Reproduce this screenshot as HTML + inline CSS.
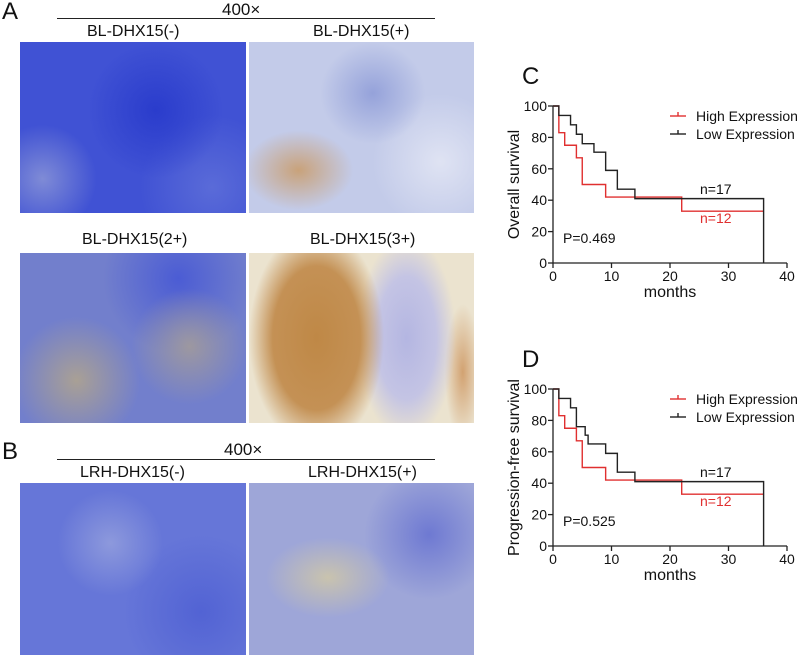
<!DOCTYPE html>
<html><head><meta charset="utf-8">
<style>
body{margin:0;width:797px;height:655px;background:#fff;overflow:hidden;position:relative;font-family:"Liberation Sans",Arial,sans-serif;}
.t{position:absolute;color:#111;white-space:nowrap;}
.img{position:absolute;overflow:hidden;}
.line{position:absolute;height:1px;background:#222;}
</style></head><body>
<div class="t" style="left:2px;top:-2px;font-size:24px;">A</div>
<div class="t" style="left:222px;top:0px;font-size:17px;">400×</div>
<div class="line" style="left:57px;top:18px;width:378px;"></div>
<div class="t" style="left:87px;top:23px;font-size:16px;">BL-DHX15(-)</div>
<div class="t" style="left:313px;top:23px;font-size:16px;">BL-DHX15(+)</div>
<div class="img" style="left:20px;top:42px;width:226px;height:171px;background:radial-gradient(circle at 10% 80%,#7f8bd6 0,transparent 22%),radial-gradient(circle at 60% 40%,#2a3ccc 0,transparent 40%),radial-gradient(circle at 85% 85%,#5a6bd8 0,transparent 30%),#4052d4;"></div>
<div class="img" style="left:249px;top:42px;width:225px;height:171px;background:radial-gradient(ellipse at 22% 75%,#c9a27a 0,transparent 22%),radial-gradient(ellipse at 55% 30%,#95a2da 0,transparent 30%),radial-gradient(circle at 85% 70%,#dfe3f3 0,transparent 30%),#c3cbe9;"></div>
<div class="t" style="left:82px;top:231px;font-size:16px;">BL-DHX15(2+)</div>
<div class="t" style="left:310px;top:231px;font-size:16px;">BL-DHX15(3+)</div>
<div class="img" style="left:20px;top:253px;width:226px;height:170px;background:radial-gradient(circle at 25% 75%,#a9a095 0,transparent 30%),radial-gradient(circle at 75% 55%,#9d98a0 0,transparent 30%),radial-gradient(circle at 70% 15%,#4b5cd4 0,transparent 35%),#727fcc;"></div>
<div class="img" style="left:249px;top:253px;width:225px;height:170px;background:radial-gradient(ellipse 30% 65% at 30% 50%,#bf8846 0,#c49155 65%,transparent 100%),radial-gradient(ellipse 22% 60% at 70% 50%,#b4b6e2 0,#c4c4e4 60%,transparent 100%),radial-gradient(ellipse 8% 40% at 95% 70%,#d2a271 0,transparent 100%),#ebe3cf;"></div>
<div class="t" style="left:2px;top:438px;font-size:24px;">B</div>
<div class="t" style="left:224px;top:440px;font-size:17px;">400×</div>
<div class="line" style="left:57px;top:459px;width:378px;"></div>
<div class="t" style="left:80px;top:464px;font-size:16px;">LRH-DHX15(-)</div>
<div class="t" style="left:308px;top:464px;font-size:16px;">LRH-DHX15(+)</div>
<div class="img" style="left:20px;top:483px;width:226px;height:172px;background:radial-gradient(circle at 40% 35%,#8d99dc 0,transparent 30%),radial-gradient(circle at 80% 75%,#5263d4 0,transparent 35%),#6676d8;"></div>
<div class="img" style="left:249px;top:483px;width:225px;height:172px;background:radial-gradient(ellipse at 35% 55%,#c9c3ae 0,transparent 30%),radial-gradient(circle at 80% 30%,#6e79d2 0,transparent 30%),#9ea6d8;"></div>

<svg id="charts" width="797" height="655" style="position:absolute;left:0;top:0"></svg>
<script>
const months = [0,10,20,30,40];
const yTicks = [0,20,40,60,80,100];
const highTimes = [0,1,2,4,5,9,22,36];
const highOS = [100,83,75,67,50,42,33,33];
const lowTimes = [0,1,3,4,5,7,9,11,14,36,36];
const lowOS = [100,94,88,82,76,70.6,59,47,41,41,0];
const highPFS = [100,83,75,67,50,42,33,33];
const lowTimesPFS = [0,1,3,4,5.5,6,9,11,14,36,36];
const lowPFS = [100,94,88,76,70.6,65,59,47,41,41,0];
const NS='http://www.w3.org/2000/svg';
const svg=document.getElementById('charts');
function mk(tag,attrs,parent){const e=document.createElementNS(NS,tag);for(const k in attrs)e.setAttribute(k,attrs[k]);(parent||svg).appendChild(e);return e;}
function txt(s,x,y,size,fill,anchor,parent){const e=mk('text',{x:x,y:y,'font-size':size,fill:fill,'text-anchor':anchor||'start','font-family':'Liberation Sans, Arial, sans-serif'},parent);e.textContent=s;return e;}
function chart(name,top,ytitle,hT,hV,lT,lV,pval,letter){
  const g=mk('g',{});
  
  
  const x0=553,x1=787,y0=top+157,y1=top;
  const X=v=>x0+(x1-x0)*v/40, Y=v=>y0-(y0-y1)*v/100;
  const L=txt(letter,522,top-22,24,'#111','start',g);
  
  
  mk('line',{x1:x0,y1:y0,x2:x0,y2:y1,stroke:'#222','stroke-width':1.3},g);
  mk('line',{x1:x0,y1:y0,x2:x1,y2:y0,stroke:'#222','stroke-width':1.3},g);
  yTicks.forEach(v=>{mk('line',{x1:x0-5,y1:Y(v),x2:x0,y2:Y(v),stroke:'#222','stroke-width':1.3},g);
    const t=txt(String(v),x0-6,Y(v)+5,14,'#111','end',g);
    
    });
  months.forEach(v=>{mk('line',{x1:X(v),y1:y0,x2:X(v),y2:y0+5,stroke:'#222','stroke-width':1.3},g);
    const t=txt(String(v),X(v),y0+18,14,'#111','middle',g);
    
    });
  const xt=txt('months',(x0+x1)/2,y0+34,16,'#111','middle',g);
  
  
  const yt=txt(ytitle,0,0,16,'#111','middle',g);
  yt.setAttribute('transform','translate(519,'+((y0+y1)/2)+') rotate(-90)');
  
  
  function step(T,V,col,nm){let d='M'+X(T[0])+','+Y(V[0]);
    for(let i=1;i<T.length;i++){d+=' H'+X(T[i])+' V'+Y(V[i]);}
    const p=mk('path',{d:d,fill:'none',stroke:col,'stroke-width':1.4},g);
    
    }
  step(hT,hV,'#e03030','high-expression-line');
  step(lT,lV,'#222','low-expression-line');
  [['High Expression','#e03030',top+10],['Low Expression','#222',top+28]].forEach(([s,c,y])=>{
    const lg=mk('g',{},g);
    
    
    mk('line',{x1:670,y1:y,x2:686,y2:y,stroke:c,'stroke-width':1.4},lg);
    mk('line',{x1:678,y1:y,x2:678,y2:y-4,stroke:c,'stroke-width':1.4},lg);
    txt(s,696,y+5,14,'#111','start',lg);});
  const n1=txt('n=17',700,top+88,14,'#111','start',g);
  
  const n2=txt('n=12',700,top+117,14,'#e03030','start',g);
  
  const pv=txt(pval,563,top+137,14,'#111','start',g);
  
}
chart('overall-survival-chart',106,'Overall survival',highTimes,highOS,lowTimes,lowOS,'P=0.469','C');
chart('progression-free-survival-chart',389,'Progression-free survival',highTimes,highPFS,lowTimesPFS,lowPFS,'P=0.525','D');
</script>
</body></html>
